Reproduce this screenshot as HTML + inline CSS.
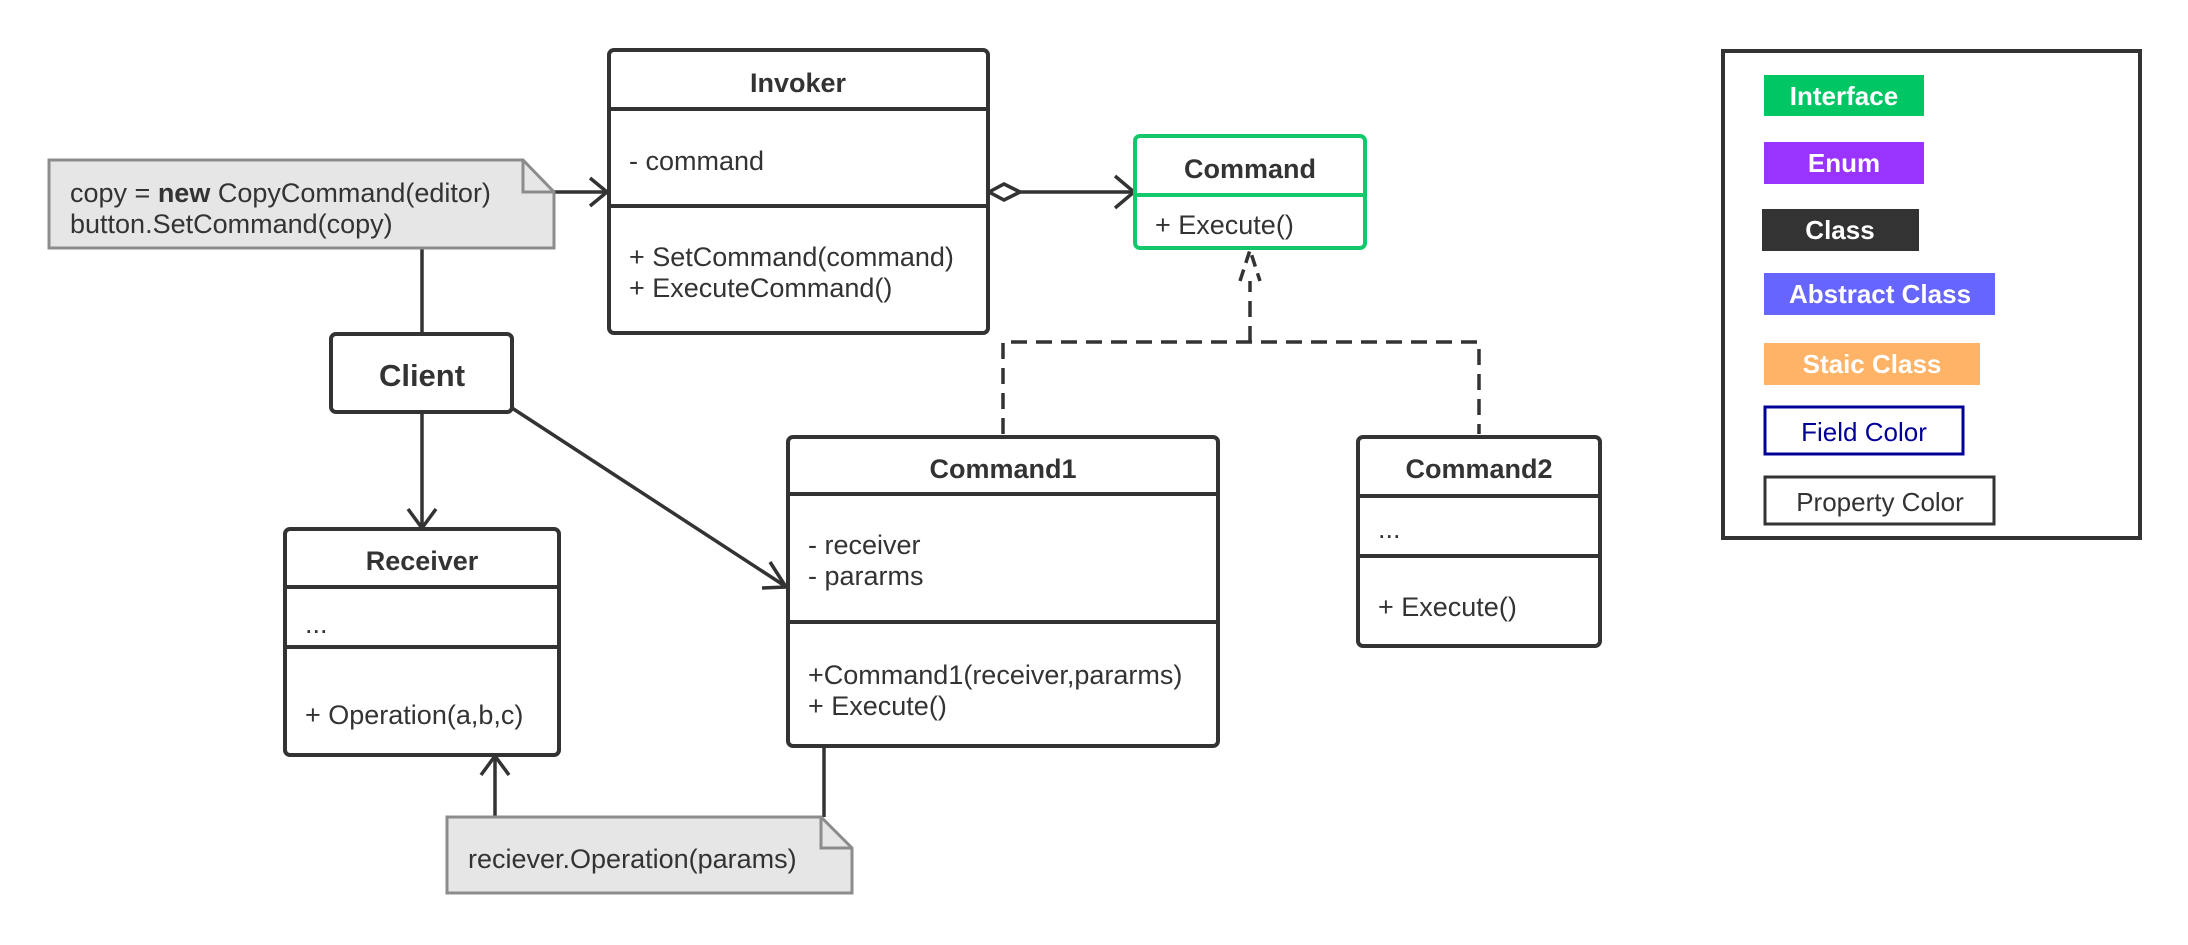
<!DOCTYPE html>
<html><head><meta charset="utf-8"><style>
html,body{margin:0;padding:0;background:#fff;}
svg{display:block;font-family:"Liberation Sans",sans-serif;}
.t{font-size:27px;fill:#333;}
.b{font-size:27px;font-weight:bold;fill:#333;}
.l{font-size:26px;font-weight:bold;fill:#fff;}
</style></head><body>
<svg width="2188" height="945" viewBox="0 0 2188 945" xmlns="http://www.w3.org/2000/svg">
<rect width="2188" height="945" fill="#fff"/>
<g stroke="#333" stroke-width="3.5" fill="none">
  <line x1="554" y1="192" x2="606" y2="192"/>
  <polyline points="590,178 607,192 590,206"/>
  <line x1="422" y1="248" x2="422" y2="333"/>
  <line x1="422" y1="412" x2="422" y2="527"/>
  <polyline points="408,509 422,528 436,509"/>
  <line x1="512" y1="408" x2="785" y2="586"/>
  <polyline points="770,562 786,587 762,588"/>
  <line x1="1020" y1="192" x2="1132" y2="192"/>
  <polygon points="989,192 1004,184 1020,192 1004,200" fill="#fff"/>
  <polyline points="1115,176 1134,192 1115,208"/>
  <g stroke-dasharray="16,9">
    <polyline points="1003,434 1003,342 1479,342 1479,434"/>
    <line x1="1250" y1="342" x2="1250" y2="281"/>
  </g>
  <polyline points="1240,281 1250,250 1260,281" stroke-dasharray="12,7"/>
  <line x1="495" y1="817" x2="495" y2="757"/>
  <polyline points="481,775 495,756 509,775"/>
  <line x1="824" y1="746" x2="824" y2="817"/>
</g>

<path d="M49,160 H523 L554,192 V248 H49 Z" fill="#e6e6e6" stroke="#8c8c8c" stroke-width="3"/>
<path d="M523,160 V192 H554" fill="none" stroke="#8c8c8c" stroke-width="3"/>
<text class="t" x="70" y="202">copy = <tspan font-weight="bold">new</tspan> CopyCommand(editor)</text>
<text class="t" x="70" y="233">button.SetCommand(copy)</text>

<path d="M447,817 H821 L852,848 V893 H447 Z" fill="#e6e6e6" stroke="#8c8c8c" stroke-width="3"/>
<path d="M821,817 V848 H852" fill="none" stroke="#8c8c8c" stroke-width="3"/>
<text class="t" x="468" y="868">reciever.Operation(params)</text>

<rect x="609" y="50" width="379" height="283" rx="5" fill="#fff" stroke="#333" stroke-width="4"/>
<line x1="609" y1="109" x2="988" y2="109" stroke="#333" stroke-width="4"/>
<line x1="609" y1="206" x2="988" y2="206" stroke="#333" stroke-width="4"/>
<text class="b" x="798" y="92" text-anchor="middle">Invoker</text>
<text class="t" x="629" y="170">- command</text>
<text class="t" x="629" y="266">+ SetCommand(command)</text>
<text class="t" x="629" y="297">+ ExecuteCommand()</text>

<rect x="331" y="334" width="181" height="78" rx="5" fill="#fff" stroke="#333" stroke-width="4"/>
<text x="422" y="386" text-anchor="middle" font-size="31" font-weight="bold" fill="#333">Client</text>

<rect x="1135" y="136" width="230" height="112" rx="5" fill="#fff" stroke="#12c86a" stroke-width="4"/>
<line x1="1135" y1="195" x2="1365" y2="195" stroke="#12c86a" stroke-width="4"/>
<text class="b" x="1250" y="178" text-anchor="middle">Command</text>
<text class="t" x="1155" y="234">+ Execute()</text>

<rect x="285" y="529" width="274" height="226" rx="5" fill="#fff" stroke="#333" stroke-width="4"/>
<line x1="285" y1="587" x2="559" y2="587" stroke="#333" stroke-width="4"/>
<line x1="285" y1="647" x2="559" y2="647" stroke="#333" stroke-width="4"/>
<text class="b" x="422" y="570" text-anchor="middle">Receiver</text>
<text class="t" x="305" y="633">...</text>
<text class="t" x="305" y="724">+ Operation(a,b,c)</text>

<rect x="788" y="437" width="430" height="309" rx="5" fill="#fff" stroke="#333" stroke-width="4"/>
<line x1="788" y1="494" x2="1218" y2="494" stroke="#333" stroke-width="4"/>
<line x1="788" y1="622" x2="1218" y2="622" stroke="#333" stroke-width="4"/>
<text class="b" x="1003" y="478" text-anchor="middle">Command1</text>
<text class="t" x="808" y="554">- receiver</text>
<text class="t" x="808" y="585">- pararms</text>
<text class="t" x="808" y="684">+Command1(receiver,pararms)</text>
<text class="t" x="808" y="715">+ Execute()</text>

<rect x="1358" y="437" width="242" height="209" rx="5" fill="#fff" stroke="#333" stroke-width="4"/>
<line x1="1358" y1="496" x2="1600" y2="496" stroke="#333" stroke-width="4"/>
<line x1="1358" y1="556" x2="1600" y2="556" stroke="#333" stroke-width="4"/>
<text class="b" x="1479" y="478" text-anchor="middle">Command2</text>
<text class="t" x="1378" y="538">...</text>
<text class="t" x="1378" y="616">+ Execute()</text>

<rect x="1723" y="51" width="417" height="487" fill="#fff" stroke="#333" stroke-width="4"/>
<rect x="1764" y="75" width="160" height="41" fill="#00c764"/>
<text class="l" x="1844" y="105" text-anchor="middle">Interface</text>
<rect x="1764" y="142" width="160" height="42" fill="#9933ff"/>
<text class="l" x="1844" y="172" text-anchor="middle">Enum</text>
<rect x="1762" y="209" width="157" height="42" fill="#333"/>
<text class="l" x="1840" y="239" text-anchor="middle">Class</text>
<rect x="1764" y="273" width="231" height="42" fill="#6666ff"/>
<text class="l" x="1880" y="303" text-anchor="middle">Abstract Class</text>
<rect x="1764" y="343" width="216" height="42" fill="#ffb366"/>
<text class="l" x="1872" y="373" text-anchor="middle">Staic Class</text>
<rect x="1765" y="407" width="198" height="47" fill="#fff" stroke="#000099" stroke-width="3"/>
<text x="1864" y="441" text-anchor="middle" font-size="26" fill="#000099">Field Color</text>
<rect x="1765" y="477" width="229" height="47" fill="#fff" stroke="#333" stroke-width="3"/>
<text x="1880" y="511" text-anchor="middle" font-size="26" fill="#333">Property Color</text>
</svg>
</body></html>
